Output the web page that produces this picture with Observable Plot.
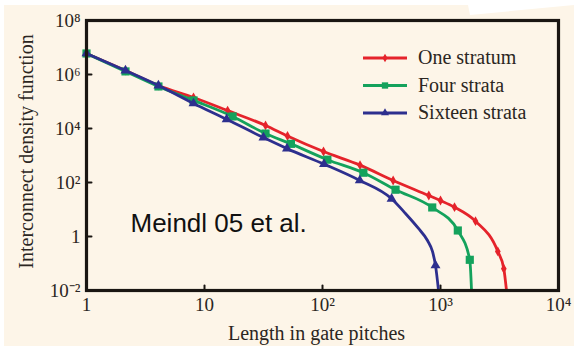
<!DOCTYPE html>
<html><head><meta charset="utf-8">
<script src="https://cdn.jsdelivr.net/npm/d3@7"></script>
<script src="https://cdn.jsdelivr.net/npm/@observablehq/plot@0.6"></script>
<style>
html,body{margin:0;padding:0;background:#ffffff;}
#wrap{position:relative;width:574px;height:346px;overflow:hidden;}
#bg{position:absolute;left:0;top:0;width:574px;height:346px;background:#fdf5e8;
  clip-path:polygon(4px 5px,468px 5px,470px 15px,574px 5px,574px 346px,4px 346px);}
#chart{position:absolute;left:0;top:0;}
</style></head><body>
<div id="wrap"><div id="bg"></div><div id="chart"></div></div>
<script>
// ---- data ----
const seriesNames  = ["One stratum", "Four strata", "Sixteen strata"];
const seriesColors = ["#e5232b", "#14a25c", "#2d2f8e"];
const seriesSymbols = ["diamond", "square", "triangle"];

// One stratum (marked points)
const oneLen = [1, 2.14, 4.07, 8.07, 15.7, 32.9, 50.5, 102, 208, 397, 796, 1000, 1315, 1981, 3060, 3440];
const oneDen = [6.0e6, 1.4e6, 3.9e5, 1.4e5, 4.6e4, 1.3e4, 5.3e3, 1.4e3, 440, 119, 33, 21.5, 12.2, 3.7, 0.28, 0.064];
const oneTailLen = [3625];
const oneTailDen = [0.01];

// Four strata (marked points)
const fourLen = [1, 2.14, 4.07, 8.07, 17.3, 32.9, 54, 110, 222, 416, 851, 1402, 1771];
const fourDen = [6.0e6, 1.3e6, 3.6e5, 1.1e5, 2.8e4, 6.5e3, 2.7e3, 700, 230, 54, 11.9, 1.67, 0.137];
const fourTailLen = [1832];
const fourTailDen = [0.01];

// Sixteen strata (marked points)
const sixteenLen = [1, 2.14, 4.07, 8.07, 15.4, 31.6, 50, 103, 207, 385, 907];
const sixteenDen = [6.0e6, 1.4e6, 3.9e5, 8.5e4, 2.2e4, 4.6e3, 1.8e3, 480, 119, 25, 0.085];
const sixteenTailLen = [505, 651, 776, 855, 962];
const sixteenTailDen = [7.1, 1.98, 0.71, 0.28, 0.01];

const xTicks = [1, 10, 100, 1000, 10000];
const xTickLabels = ["1", "10", "10²", "10³", "10⁴"];
const yTicks = [1e-2, 1, 1e2, 1e4, 1e6, 1e8];
const yTickLabels = ["10⁻²", "1", "10²", "10⁴", "10⁶", "10⁸"];
const xLabel = "Length in gate pitches";
const yLabel = "Interconnect density function";
const note = "Meindl 05 et al.";

// ---- build tables ----
const marked = [[oneLen, oneDen], [fourLen, fourDen], [sixteenLen, sixteenDen]];
const tails = [[oneTailLen, oneTailDen], [fourTailLen, fourTailDen], [sixteenTailLen, sixteenTailDen]];
const pts = marked.map(([L, D]) => L.map((l, i) => ({len: l, den: D[i]})));
const linePts = marked.map(([L, D], s) => {
  const a = L.map((l, i) => ({len: l, den: D[i]}));
  const [TL, TD] = tails[s];
  TL.forEach((l, i) => a.push({len: l, den: TD[i]}));
  return a.sort((p, q) => p.len - q.len);
});
const xFmt = new Map(xTicks.map((t, i) => [t, xTickLabels[i]]));
const yFmt = new Map(yTicks.map((t, i) => [t, yTickLabels[i]]));
const tickShape = {draw(ctx, l) { ctx.moveTo(0, 0); ctx.lineTo(0, -l); }};
const symSize = [3.0, 4.6, 3.7];
const ink = "#2b2622";

const marks = [];
seriesNames.forEach((name, s) => {
  marks.push(Plot.line(linePts[s], {x: "len", y: "den", stroke: seriesColors[s], strokeWidth: 2.8, curve: "monotone-x", clip: true}));
  marks.push(Plot.dot(pts[s], {x: "len", y: "den", symbol: seriesSymbols[s], fill: seriesColors[s], r: symSize[s], stroke: "none"}));
});

const plot = Plot.plot({
  width: 574, height: 346,
  marginLeft: 86, marginRight: 16, marginTop: 20, marginBottom: 56,
  style: {background: "transparent", fontFamily: "'Liberation Serif','Times New Roman',serif", fontSize: "19px", color: ink},
  x: {type: "log", domain: [1, 1e4]},
  y: {type: "log", domain: [1e-2, 1e8]},
  marks: [
    Plot.axisX(xTicks, {tickFormat: d => xFmt.get(d), tickSize: 0, tickPadding: 7, label: null, fontSize: 19}),
    Plot.axisY(yTicks, {tickFormat: d => yFmt.get(d), tickSize: 0, tickPadding: 6, label: null, fontSize: 19}),
    Plot.vector(xTicks.slice(1, -1), {x: d => d, frameAnchor: "bottom", length: 5, rotate: 0, anchor: "start", shape: tickShape, stroke: "#1a1612", strokeWidth: 2}),
    Plot.vector(yTicks.slice(1, -1), {y: d => d, frameAnchor: "left", length: 5, rotate: 90, anchor: "start", shape: tickShape, stroke: "#1a1612", strokeWidth: 2}),
    ...marks,
    Plot.frame({stroke: "#1a1612", strokeWidth: 3.2}),
    Plot.text([xLabel], {frameAnchor: "bottom", dy: 43, dx: -6, fontSize: 20, textAnchor: "middle", lineAnchor: "middle", fill: ink}),
    Plot.text([yLabel], {frameAnchor: "left", dx: -60, dy: -4, rotate: -90, fontSize: 20, textAnchor: "middle", lineAnchor: "middle", fill: ink}),
    Plot.text([note], {frameAnchor: "top-left", dx: 44, dy: 211, fontSize: 26, textAnchor: "start", lineAnchor: "bottom", fontFamily: "'Liberation Sans',Arial,sans-serif", fill: "#111"})
  ]
});
document.getElementById("chart").appendChild(plot);

// ---- legend inside the frame ----
const svg = d3.select(plot);
const lg = svg.append("g").attr("class", "legend");
const legX1 = 363, legX2 = 407, legY0 = 58, legDy = 27.5;
const legSyms = [d3.symbolDiamond, d3.symbolSquare, d3.symbolTriangle];
const legSizes = [22, 40, 28];
seriesNames.forEach((name, s) => {
  const y = legY0 + s * legDy;
  lg.append("line").attr("x1", legX1).attr("x2", legX2).attr("y1", y).attr("y2", y)
    .attr("stroke", seriesColors[s]).attr("stroke-width", 3);
  lg.append("path").attr("d", d3.symbol(legSyms[s], legSizes[s])())
    .attr("transform", `translate(${(legX1 + legX2) / 2},${y})`).attr("fill", seriesColors[s]);
  lg.append("text").attr("x", 418).attr("y", y).attr("dy", "0.32em")
    .attr("text-anchor", "start").attr("font-size", 20).attr("fill", ink).text(name);
});
</script>
</body></html>
